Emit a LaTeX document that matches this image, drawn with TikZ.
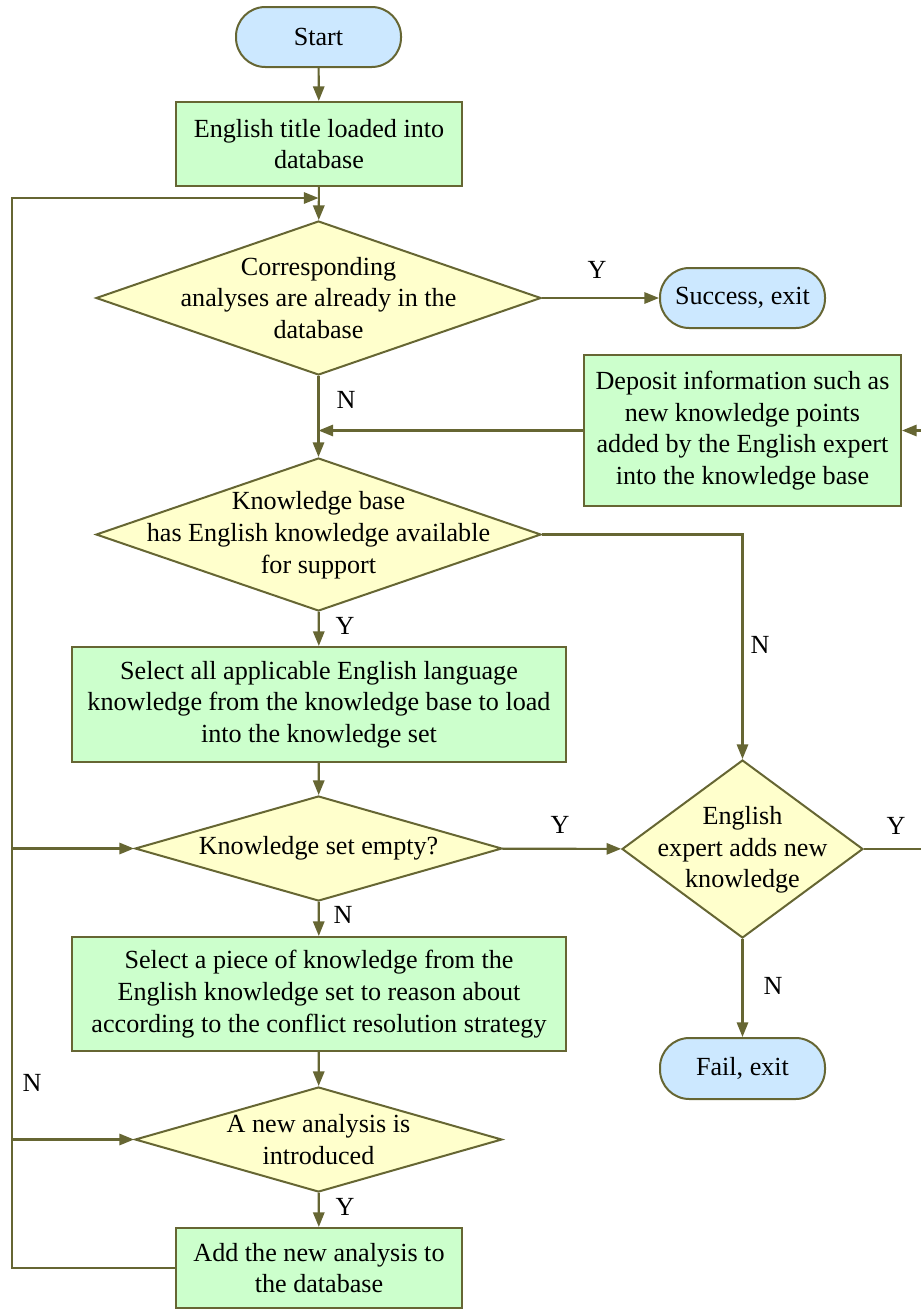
\documentclass[tikz,border=0pt]{standalone}
\usepackage{fontspec}
\setmainfont{Liberation Serif}
\usetikzlibrary{arrows.meta,shapes.geometric}
\definecolor{ol}{RGB}{102,102,51}
\definecolor{gfill}{RGB}{204,255,204}
\definecolor{yfill}{RGB}{255,255,204}
\definecolor{bfill}{RGB}{204,232,255}
\begin{document}
\begin{tikzpicture}[x=0.75pt,y=-0.75pt,
 font=\fontsize{19.6}{23.8}\selectfont,
 conn/.style={draw=ol, line width=1.6pt},
 arr/.style={conn,-{Triangle[length=11pt,width=8.5pt]}},
 proc/.style={draw=ol, fill=gfill, line width=1.5pt, align=center, inner sep=0pt},
 term/.style={draw=ol, fill=bfill, line width=1.5pt, rounded corners=22pt, inner sep=0pt, minimum width=123.75pt, minimum height=45pt},
 dec/.style={draw=ol, fill=yfill, diamond, line width=1.5pt, inner sep=0pt},
 dtext/.style={align=center, inner sep=0pt},
 lab/.style={inner sep=0pt}]
\useasboundingbox (0,0) rectangle (921,1311);
% nodes
\node[term] (start) at (318.5,37) {Start};
\node[proc, minimum width=214.5pt, minimum height=63pt] (b1) at (319,144) {English title loaded into\\database};
\node[dec, minimum width=333.75pt, minimum height=115.5pt] (d1) at (318.5,298) {};
\node[dtext] (t1) at (318.5,298) {Corresponding\\analyses are already in the\\database};
\node[term] (succ) at (742.5,298) {Success, exit};
\node[proc, minimum width=237.75pt, minimum height=113.25pt] (dep) at (742.5,430.5) {Deposit information such as\\new knowledge points\\added by the English expert\\into the knowledge base};
\node[dec, minimum width=333.75pt, minimum height=114.75pt] (d2) at (318.5,534.5) {};
\node[dtext] (t2) at (318.5,535) {Knowledge base\\has English knowledge available\\for support};
\node[proc, minimum width=370.5pt, minimum height=86.25pt] (b3) at (319,704.5) {Select all applicable English language\\knowledge from the knowledge base to load\\into the knowledge set};
\node[dec, minimum width=275.25pt, minimum height=78.75pt] (d4) at (318.5,848.5) {};
\node[dtext] (t4) at (318.5,848.5) {Knowledge set empty?};
\node[dec, minimum width=180.75pt, minimum height=133.5pt] (d3) at (742.5,849) {};
\node[dtext] (t3) at (742.5,850) {English\\expert adds new\\knowledge};
\node[term, minimum height=45.75pt] (fail) at (742.5,1068.5) {Fail, exit};
\node[proc, minimum width=370.5pt, minimum height=85.5pt] (b4) at (319,994) {Select a piece of knowledge from the\\English knowledge set to reason about\\according to the conflict resolution strategy};
\node[dec, minimum width=275.25pt, minimum height=78.75pt] (d5) at (318.5,1139.5) {};
\node[dtext] (t5) at (318.5,1139.5) {A new analysis is\\introduced};
\node[proc, minimum width=214.5pt, minimum height=60pt] (b5) at (319,1268) {Add the new analysis to\\the database};
% coordinates
\coordinate (loopTop) at (318.5,198);
\coordinate (lt) at (12,198);
\coordinate (lb) at (12,1268);
\coordinate (l4) at (12,848.5);
\coordinate (l5) at (12,1139.5);
\coordinate (edgeD) at (921,430.5);
\coordinate (edgeY) at (921,849);
% connectors
\draw[arr] (start) -- (b1);
\draw[arr] (b1) -- (d1);
\draw[arr] (d1) -- (succ);
\draw[arr] (d1) -- (d2);
\draw[arr] (dep.west) -- (d1.south |- dep.west);
\draw[arr] (edgeD) -- (dep.east);
\draw[arr] (d2.east) -| (d3.north);
\draw[arr] (d2) -- (b3);
\draw[arr] (b3) -- (d4);
\draw[arr] (d4) -- (d3);
\draw[conn] (d3.east) -- (edgeY);
\draw[arr] (d3) -- (fail);
\draw[arr] (d4) -- (b4);
\draw[arr] (b4) -- (d5);
\draw[arr] (d5) -- (b5);
\draw[arr] (b5.west) -- (lb) -- (lt) -- (loopTop);
\draw[arr] (l4) -- (d4.west);
\draw[arr] (l5) -- (d5.west);
% labels
\node[lab] (y1) at (597,270) {Y};
\node[lab] (n1) at (346,400) {N};
\node[lab] (n2) at (760,645) {N};
\node[lab] (y2) at (345,626) {Y};
\node[lab] (y3) at (560,825) {Y};
\node[lab] (y4) at (896,826) {Y};
\node[lab] (n3) at (773,986) {N};
\node[lab] (n4) at (343,915) {N};
\node[lab] (n5) at (32,1083) {N};
\node[lab] (y5) at (345,1207) {Y};
\end{tikzpicture}
\end{document}
